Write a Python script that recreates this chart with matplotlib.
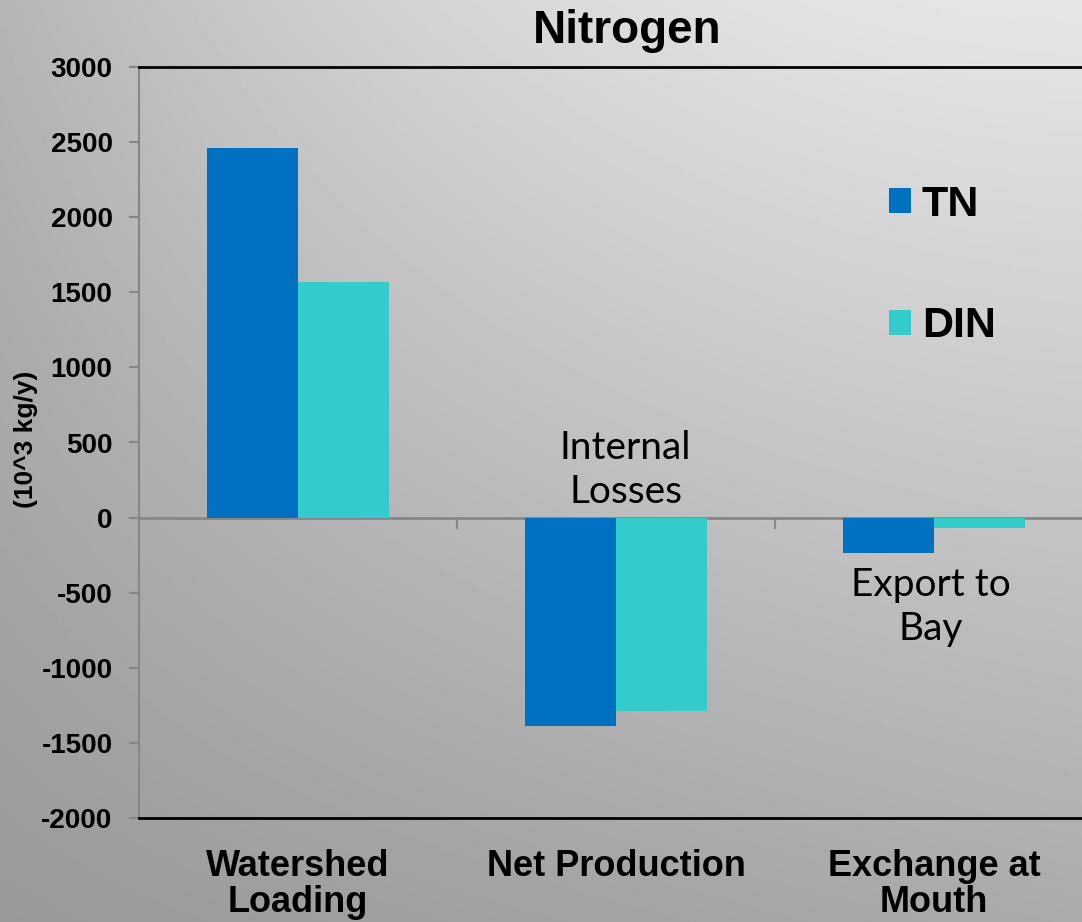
import numpy as np
import matplotlib.pyplot as plt

plt.rcParams["axes.unicode_minus"] = False

# data (10^3 kg/y)
categories = ["Watershed\nLoading", "Net Production", "Exchange at\nMouth"]
tn = [2460, -1390, -235]
din = [1570, -1285, -70]
series_names = ["TN", "DIN"]
colors = ["#0070C0", "#33CCCC"]

W, H = 1082, 922
fig = plt.figure(figsize=(W / 100, H / 100), dpi=100)

# gray gradient background
bg = fig.add_axes([0, 0, 1, 1], zorder=-10)
xx, yy = np.meshgrid(np.linspace(0, 1, 300), np.linspace(0, 1, 300))
top = 0.71 + 0.19 * (1 - (1 - xx) ** 2)
bottom = 0.60 + 0.07 * xx
vals = top * (1 - yy) + bottom * yy
bg.imshow(vals, cmap="gray", vmin=0, vmax=1, aspect="auto", extent=[0, 1, 1, 0])
bg.set_xlim(0, 1)
bg.set_ylim(1, 0)
bg.axis("off")

ax = fig.add_axes([139 / W, 104 / H, 954 / W, 751 / H])
ax.patch.set_alpha(0)

x = np.arange(len(categories))
bw = 0.286
ax.bar(x - bw / 2, tn, bw, color=colors[0], label=series_names[0], zorder=3)
ax.bar(x + bw / 2, din, bw, color=colors[1], label=series_names[1], zorder=3)

ax.set_xlim(-0.5, 2.5)
ax.set_ylim(-2000, 3000)
ax.set_yticks(np.arange(-2000, 3001, 500))
ax.tick_params(axis="y", direction="out", length=7, color="#868686", width=1.5,
               labelsize=20, pad=12)
for t in ax.get_yticklabels():
    t.set_fontweight("bold")
    t.set_family("Liberation Sans")

ax.set_xticks(x)
ax.set_xticklabels(categories, fontsize=26, fontweight="bold",
                   family="Liberation Sans", linespacing=1.05)
ax.tick_params(axis="x", length=0, pad=22)

ax.spines["left"].set_color("#868686")
ax.spines["left"].set_linewidth(1.5)
ax.spines["top"].set_color("black")
ax.spines["top"].set_linewidth(2)
ax.spines["bottom"].set_color("black")
ax.spines["bottom"].set_linewidth(2)
ax.spines["right"].set_visible(False)

# zero line with category separators
sec = ax.secondary_xaxis(0.4)
sec.set_xticks([0.5, 1.5])
sec.tick_params(direction="out", length=8, color="#868686", width=1.5,
                labelbottom=False)
sec.spines["bottom"].set_color("#868686")
sec.spines["bottom"].set_linewidth(2)

ax.set_ylabel("(10^3 kg/y)", fontsize=19, fontweight="bold",
              family="Liberation Sans")
ax.yaxis.set_label_coords(-0.106, 0.504)

fig.text(627 / W, 1 - 31 / H, "Nitrogen", fontsize=33, fontweight="bold",
         family="Liberation Sans", ha="center", va="center")

ax.legend(loc="upper left", bbox_to_anchor=(867 / W, 1 - 163 / H),
          bbox_transform=fig.transFigure, frameon=False,
          prop={"family": "Liberation Sans", "weight": "bold", "size": 31},
          handlelength=0.52, handleheight=0.52, handletextpad=0.25,
          labelspacing=1.9, borderpad=0)

ax.text(1.03, 317, "Internal\nLosses", fontsize=28, family="Lato",
        ha="center", va="center", linespacing=1.25)
ax.text(1.99, -596, "Export to\nBay", fontsize=28, family="Lato",
        ha="center", va="center", linespacing=1.25)

fig.savefig("out.png", dpi=100)
